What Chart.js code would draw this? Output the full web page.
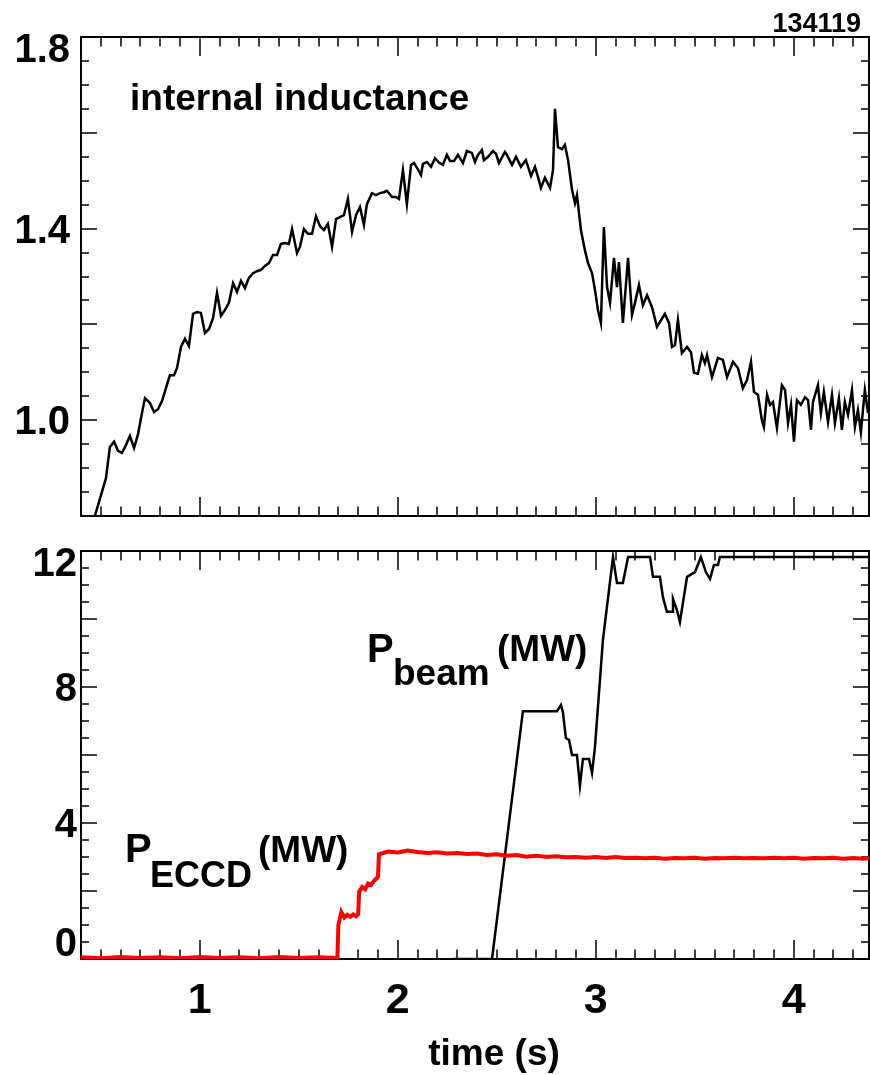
<!DOCTYPE html>
<html>
<head>
<meta charset="utf-8">
<script src="https://cdn.jsdelivr.net/npm/chart.js@4.4.0/dist/chart.umd.min.js"></script>
<style>
  body { margin: 0; background: #fff; width: 870px; height: 1075px; overflow: hidden; position: relative; }
  canvas { position: absolute; left: 0; }
  #topchart { top: 0; }
  #botchart { top: 530px; }
</style>
</head>
<body>
<canvas id="topchart" width="870" height="530"></canvas>
<canvas id="botchart" width="870" height="545"></canvas>
<script>
// shot 134119 - internal inductance, beam and ECCD power vs time
const liTime = [0.470, 0.526, 0.546, 0.567, 0.587, 0.607, 0.627, 0.647, 0.668, 0.688,
  0.708, 0.723, 0.748, 0.769, 0.789, 0.809, 0.829, 0.849, 0.870, 0.885,
  0.905, 0.925, 0.945, 0.966, 0.986, 1.006, 1.026, 1.046, 1.067, 1.087,
  1.107, 1.127, 1.147, 1.168, 1.188, 1.208, 1.228, 1.248, 1.269, 1.289,
  1.309, 1.329, 1.349, 1.370, 1.390, 1.410, 1.430, 1.450, 1.466, 1.491,
  1.506, 1.526, 1.546, 1.567, 1.587, 1.607, 1.627, 1.647, 1.668, 1.688,
  1.708, 1.728, 1.748, 1.769, 1.789, 1.809, 1.829, 1.844, 1.870, 1.890,
  1.910, 1.930, 1.945, 1.971, 1.991, 2.006, 2.026, 2.046, 2.067, 2.082,
  2.097, 2.117, 2.127, 2.147, 2.168, 2.188, 2.208, 2.228, 2.248, 2.264,
  2.284, 2.304, 2.329, 2.349, 2.374, 2.390, 2.405, 2.425, 2.435, 2.456,
  2.481, 2.496, 2.511, 2.541, 2.551, 2.577, 2.597, 2.622, 2.647, 2.673,
  2.693, 2.708, 2.723, 2.743, 2.769, 2.784, 2.794, 2.809, 2.829, 2.844,
  2.860, 2.880, 2.895, 2.905, 2.925, 2.945, 2.961, 2.981, 2.996, 3.011,
  3.026, 3.041, 3.057, 3.072, 3.092, 3.107, 3.117, 3.137, 3.163, 3.183,
  3.198, 3.218, 3.238, 3.259, 3.284, 3.309, 3.324, 3.349, 3.370, 3.385,
  3.400, 3.415, 3.435, 3.461, 3.481, 3.496, 3.516, 3.536, 3.551, 3.562,
  3.587, 3.617, 3.642, 3.663, 3.693, 3.718, 3.743, 3.764, 3.784, 3.799,
  3.819, 3.839, 3.849, 3.865, 3.880, 3.895, 3.915, 3.940, 3.956, 3.971,
  3.986, 4.001, 4.016, 4.036, 4.057, 4.072, 4.087, 4.097, 4.122, 4.137,
  4.152, 4.173, 4.193, 4.208, 4.228, 4.243, 4.258, 4.274, 4.294, 4.309,
  4.324, 4.339, 4.359, 4.375];
const liValue = [0.800, 0.879, 0.944, 0.955, 0.936, 0.932, 0.948, 0.967, 0.942, 0.971,
  1.015, 1.046, 1.036, 1.017, 1.023, 1.040, 1.067, 1.094, 1.094, 1.109,
  1.153, 1.170, 1.155, 1.222, 1.226, 1.224, 1.182, 1.190, 1.213, 1.266,
  1.218, 1.230, 1.245, 1.286, 1.268, 1.291, 1.276, 1.297, 1.307, 1.311,
  1.314, 1.322, 1.328, 1.345, 1.345, 1.368, 1.370, 1.368, 1.399, 1.349,
  1.362, 1.399, 1.389, 1.389, 1.426, 1.405, 1.397, 1.410, 1.362, 1.420,
  1.424, 1.428, 1.462, 1.393, 1.428, 1.445, 1.408, 1.451, 1.474, 1.470,
  1.474, 1.476, 1.479, 1.466, 1.466, 1.462, 1.522, 1.451, 1.533, 1.537,
  1.527, 1.512, 1.535, 1.539, 1.529, 1.547, 1.538, 1.533, 1.554, 1.541,
  1.541, 1.554, 1.537, 1.562, 1.558, 1.539, 1.554, 1.564, 1.543, 1.550,
  1.562, 1.556, 1.537, 1.560, 1.554, 1.533, 1.550, 1.529, 1.543, 1.510,
  1.529, 1.508, 1.485, 1.506, 1.485, 1.522, 1.650, 1.570, 1.566, 1.575,
  1.543, 1.481, 1.453, 1.470, 1.397, 1.355, 1.328, 1.307, 1.272, 1.230,
  1.203, 1.403, 1.278, 1.245, 1.339, 1.278, 1.330, 1.203, 1.339, 1.220,
  1.245, 1.282, 1.240, 1.261, 1.236, 1.195, 1.205, 1.222, 1.203, 1.153,
  1.157, 1.209, 1.140, 1.153, 1.142, 1.099, 1.097, 1.136, 1.119, 1.136,
  1.090, 1.130, 1.126, 1.090, 1.122, 1.109, 1.067, 1.084, 1.122, 1.059,
  1.053, 1.000, 0.986, 1.053, 1.032, 1.038, 0.984, 1.073, 1.063, 0.994,
  1.032, 0.955, 1.042, 1.032, 1.048, 1.042, 0.980, 1.038, 1.073, 1.015,
  1.059, 0.996, 1.053, 0.994, 1.046, 0.980, 1.038, 1.011, 1.063, 0.986,
  1.021, 0.975, 1.063, 1.015];

const beamTime = [2.279, 2.476, 2.632, 2.804, 2.824, 2.834, 2.849, 2.865, 2.880, 2.905,
  2.920, 2.935, 2.966, 2.981, 2.996, 3.036, 3.087, 3.107, 3.137, 3.163,
  3.274, 3.289, 3.324, 3.339, 3.359, 3.385, 3.390, 3.410, 3.425, 3.461,
  3.501, 3.531, 3.556, 3.577, 3.597, 3.617, 3.627, 4.380];
const beamPower = [0, 0, 7.29, 7.29, 7.47, 7.26, 6.50, 6.44, 6.00, 6.00,
  5.09, 5.88, 5.88, 5.47, 6.24, 9.38, 11.82, 11.06, 11.06, 11.82,
  11.82, 11.24, 11.24, 10.65, 10.21, 10.21, 10.59, 10.26, 9.91, 11.24,
  11.38, 11.82, 11.38, 11.18, 11.59, 11.59, 11.82, 11.82];

const eccdTime = [0.40, 0.50, 0.60, 0.70, 0.80, 0.90, 1.00, 1.10, 1.20, 1.30,
  1.40, 1.50, 1.60, 1.695, 1.700, 1.715, 1.730, 1.745, 1.760, 1.775,
  1.790, 1.800, 1.805, 1.820, 1.835, 1.850, 1.865, 1.880, 1.895, 1.900,
  1.905, 1.95, 2.00, 2.05, 2.10, 2.15, 2.20, 2.25, 2.30, 2.35,
  2.40, 2.45, 2.50, 2.55, 2.60, 2.65, 2.70, 2.75, 2.80, 2.85,
  2.90, 2.95, 3.00, 3.05, 3.10, 3.15, 3.20, 3.25, 3.30, 3.35,
  3.40, 3.45, 3.50, 3.55, 3.60, 3.65, 3.70, 3.75, 3.80, 3.85,
  3.90, 3.95, 4.00, 4.05, 4.10, 4.15, 4.20, 4.25, 4.30, 4.35, 4.38];
const eccdPower = [0.05, 0.02, 0.06, 0.03, 0.05, 0.02, 0.06, 0.03, 0.05, 0.02,
  0.06, 0.03, 0.05, 0.03, 1.00, 1.38, 1.22, 1.30, 1.24, 1.31,
  1.26, 1.32, 1.98, 2.12, 2.05, 2.22, 2.18, 2.30, 2.38, 2.42,
  3.08, 3.16, 3.13, 3.19, 3.15, 3.12, 3.14, 3.10, 3.12, 3.09,
  3.10, 3.06, 3.08, 3.04, 3.06, 3.01, 3.04, 3.00, 3.02, 2.99,
  3.00, 2.98, 3.00, 2.97, 3.00, 2.97, 2.98, 2.96, 2.98, 2.95,
  2.97, 2.96, 2.98, 2.95, 2.97, 2.96, 2.98, 2.96, 2.97, 2.96,
  2.98, 2.96, 2.98, 2.95, 2.97, 2.96, 2.98, 2.95, 2.97, 2.95, 2.96];

const timeTicks = [1, 2, 3, 4];
const liTicks = [1.8, 1.4, 1.0];
const powerTicks = [0, 4, 8, 12];

const FONT = '"Liberation Sans", Arial, Helvetica, sans-serif';

function isMajor(v, step) {
  const r = v / step;
  return Math.abs(r - Math.round(r)) < 1e-6;
}

// IDL style box: inward ticks on all four sides, labels on the left (and bottom)
const frameAxes = {
  id: 'frameAxes',
  beforeDatasetsDraw(chart, args, opts) {
    const { ctx, chartArea: a, scales: { x, y } } = chart;
    ctx.save();
    ctx.strokeStyle = '#000';
    ctx.lineWidth = 1.5;
    ctx.beginPath();
    for (let i = Math.ceil(x.min / opts.xMinor - 1e-6); i * opts.xMinor <= x.max + 1e-9; i++) {
      const v = i * opts.xMinor;
      const px = Math.round(x.getPixelForValue(v));
      const len = isMajor(v, opts.xMajor) ? 19 : 9.5;
      ctx.moveTo(px, a.bottom); ctx.lineTo(px, a.bottom - len);
      ctx.moveTo(px, a.top); ctx.lineTo(px, a.top + len);
    }
    for (let i = Math.ceil(y.min / opts.yMinor - 1e-6); i * opts.yMinor <= y.max + 1e-9; i++) {
      const v = i * opts.yMinor;
      const py = Math.round(y.getPixelForValue(v));
      const len = isMajor(v, opts.yMajor) ? 16 : 8;
      ctx.moveTo(a.left, py); ctx.lineTo(a.left + len, py);
      ctx.moveTo(a.right, py); ctx.lineTo(a.right - len, py);
    }
    ctx.stroke();
    ctx.lineWidth = 2;
    ctx.strokeRect(a.left, a.top, a.right - a.left, a.bottom - a.top);
    ctx.restore();
  },
  afterDraw(chart, args, opts) {
    const { ctx, chartArea: a, scales: { x, y } } = chart;
    ctx.save();
    ctx.fillStyle = '#000';
    ctx.font = 'bold 40px ' + FONT;
    ctx.textAlign = 'right';
    ctx.textBaseline = 'alphabetic';
    opts.yLabels.forEach(v => {
      let cy = y.getPixelForValue(v);
      cy = Math.min(Math.max(cy, a.top + 11), a.bottom - 17);
      ctx.fillText(opts.yFormat(v), opts.yLabelRight, cy + 14);
    });
    if (opts.xLabels) {
      ctx.font = 'bold 43px ' + FONT;
      ctx.textAlign = 'center';
      opts.xLabels.forEach(v => {
        ctx.fillText(String(v), x.getPixelForValue(v), a.bottom + 54);
      });
    }
    (opts.notes || []).forEach(n => {
      ctx.font = 'bold ' + n.size + 'px ' + FONT;
      ctx.textAlign = n.align || 'left';
      ctx.fillText(n.text, n.x, n.y);
    });
    ctx.restore();
  }
};
Chart.register(frameAxes);

function series(xs, ys, color, width) {
  return {
    data: xs.map((t, i) => ({ x: t, y: ys[i] })),
    borderColor: color,
    borderWidth: width,
    pointRadius: 0,
    tension: 0,
    fill: false
  };
}

function baseOptions(padding, yMin, yMax) {
  return {
    responsive: false,
    animation: false,
    layout: { padding: padding },
    scales: {
      x: { type: 'linear', min: 0.4, max: 4.38, display: false },
      y: { type: 'linear', min: yMin, max: yMax, display: false }
    },
    plugins: { legend: { display: false }, tooltip: { enabled: false } }
  };
}

// top panel: internal inductance
const topOpts = baseOptions({ left: 81, right: 1, top: 37, bottom: 14 }, 0.8, 1.8);
topOpts.plugins.frameAxes = {
  xMinor: 0.1, xMajor: 1, yMinor: 0.05, yMajor: 0.2,
  yLabels: liTicks, yFormat: v => v.toFixed(1), yLabelRight: 70,
  notes: [
    { text: 'internal inductance', x: 130, y: 110, size: 37 },
    { text: '134119', x: 861, y: 32, size: 27, align: 'right' }
  ]
};
new Chart(document.getElementById('topchart'), {
  type: 'line',
  data: { datasets: [series(liTime, liValue, '#000', 2.5)] },
  options: topOpts
});

// bottom panel: heating powers
const botOpts = baseOptions({ left: 81, right: 1, top: 21, bottom: 116 }, 0, 12);
botOpts.plugins.frameAxes = {
  xMinor: 0.1, xMajor: 1, yMinor: 0.5, yMajor: 2,
  yLabels: powerTicks, yFormat: v => String(v), yLabelRight: 77,
  xLabels: timeTicks,
  notes: [
    { text: 'P', x: 367, y: 132, size: 40 },
    { text: 'beam', x: 393, y: 155, size: 37 },
    { text: '(MW)', x: 497, y: 131, size: 37 },
    { text: 'P', x: 125, y: 332, size: 40 },
    { text: 'ECCD', x: 150, y: 357, size: 36 },
    { text: '(MW)', x: 258, y: 332, size: 37 },
    { text: 'time (s)', x: 494, y: 535, size: 37, align: 'center' }
  ]
};
new Chart(document.getElementById('botchart'), {
  type: 'line',
  data: {
    datasets: [
      series(eccdTime, eccdPower, '#ff0000', 4),
      series(beamTime, beamPower, '#000', 2.5)
    ]
  },
  options: botOpts
});
</script>
</body>
</html>
